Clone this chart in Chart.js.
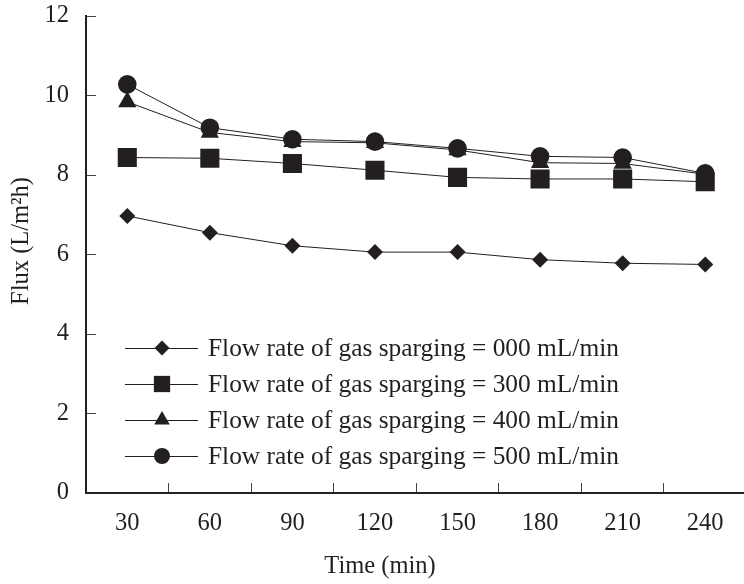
<!DOCTYPE html>
<html>
<head>
<meta charset="utf-8">
<script src="https://cdn.jsdelivr.net/npm/chart.js@4/dist/chart.umd.min.js"></script>
<style>
  html, body { margin: 0; padding: 0; background: #fff; overflow: hidden; width: 744px; height: 584px; }
  #wrap { position: relative; width: 760px; height: 584px; }
</style>
</head>
<body>
<div id="wrap"><canvas id="c" width="760" height="584"></canvas></div>
<script>
const timeLabels = ['30', '60', '90', '120', '150', '180', '210', '240'];
const flux000 = [6.97, 6.55, 6.22, 6.06, 6.06, 5.87, 5.78, 5.75];
const flux300 = [8.44, 8.42, 8.29, 8.12, 7.94, 7.90, 7.90, 7.83];
const flux400 = [9.84, 9.07, 8.84, 8.81, 8.63, 8.31, 8.29, 8.02];
const flux500 = [10.28, 9.19, 8.90, 8.84, 8.67, 8.47, 8.44, 8.04];
const seriesNames = [
  'Flow rate of gas sparging = 000 mL/min',
  'Flow rate of gas sparging = 300 mL/min',
  'Flow rate of gas sparging = 400 mL/min',
  'Flow rate of gas sparging = 500 mL/min'
];
const yTickValues = [0, 2, 4, 6, 8, 10, 12];
const xTitle = 'Time (min)';
const yTitle = 'Flux (L/m\u00B2h)';

const INK = '#231f20';
const FONT = '"Liberation Serif", "Times New Roman", serif';

function ds(label, data, style, radius, legendRadius) {
  return {
    label, data,
    borderColor: INK, borderWidth: 1,
    backgroundColor: INK,
    pointStyle: style, pointRadius: radius, pointHoverRadius: radius,
    pointBackgroundColor: INK, pointBorderColor: INK, pointBorderWidth: 0,
    legendRadius,
    fill: false, tension: 0
  };
}

function drawMarker(ctx, style, r, x, y) {
  ctx.beginPath();
  if (style === 'rectRot') {
    ctx.moveTo(x, y - r); ctx.lineTo(x + r, y); ctx.lineTo(x, y + r); ctx.lineTo(x - r, y);
  } else if (style === 'rect') {
    const s = r * Math.SQRT1_2;
    ctx.rect(x - s, y - s, 2 * s, 2 * s);
  } else if (style === 'triangle') {
    ctx.moveTo(x, y - r);
    ctx.lineTo(x + r * Math.sin(2 * Math.PI / 3), y + r / 2);
    ctx.lineTo(x - r * Math.sin(2 * Math.PI / 3), y + r / 2);
  } else {
    ctx.arc(x, y, r, 0, Math.PI * 2);
  }
  ctx.closePath();
  ctx.fill();
}

const legendAndTitles = {
  id: 'legendAndTitles',
  afterDraw(chart) {
    const ctx = chart.ctx;
    ctx.save();
    const rows = [348, 384, 420, 456];
    chart.data.datasets.forEach((d, i) => {
      const y = rows[i];
      ctx.strokeStyle = INK; ctx.lineWidth = 1;
      ctx.beginPath(); ctx.moveTo(125, y + 0.5); ctx.lineTo(198, y + 0.5); ctx.stroke();
      ctx.fillStyle = INK;
      drawMarker(ctx, d.pointStyle, d.legendRadius, 162, y);
      ctx.font = '25.4px ' + FONT;
      ctx.textAlign = 'left'; ctx.textBaseline = 'middle';
      ctx.fillText(d.label, 208, y + 1);
    });
    ctx.fillStyle = INK;
    ctx.font = '24.5px ' + FONT;
    ctx.textAlign = 'center'; ctx.textBaseline = 'middle';
    ctx.fillText(xTitle, 380, 567);
    ctx.translate(22, 241);
    ctx.rotate(-Math.PI / 2);
    ctx.fillText(yTitle, 0, 0);
    ctx.restore();
  }
};

new Chart(document.getElementById('c'), {
  type: 'line',
  data: {
    labels: timeLabels,
    datasets: [
      ds(seriesNames[0], flux000, 'rectRot', 8, 7.5),
      ds(seriesNames[1], flux300, 'rect', 13.5, 11.5),
      ds(seriesNames[2], flux400, 'triangle', 10.6, 9),
      ds(seriesNames[3], flux500, 'circle', 9.3, 8)
    ]
  },
  options: {
    responsive: false,
    animation: false,
    devicePixelRatio: 1,
    layout: { padding: { left: 0, right: 10, top: 16, bottom: 0 } },
    plugins: { legend: { display: false }, tooltip: { enabled: false } },
    scales: {
      x: {
        type: 'category',
        offset: true,
        grid: { offset: true, drawOnChartArea: false, drawTicks: true, tickLength: -10, color: '#444', lineWidth: 1 },
        border: { display: true, color: INK, width: 2 },
        ticks: { color: INK, font: { family: FONT, size: 24.5 }, padding: 26, maxRotation: 0, autoSkip: false },
        afterFit(scale) { scale.height = 91; scale.paddingLeft = 0; scale.paddingRight = 0; }
      },
      y: {
        min: 0, max: 12,
        afterBuildTicks(scale) { scale.ticks = yTickValues.map(v => ({ value: v })); },
        grid: { drawOnChartArea: false, drawTicks: true, tickLength: -10, color: '#444', lineWidth: 1 },
        border: { display: true, color: INK, width: 2 },
        ticks: { color: INK, font: { family: FONT, size: 24.5 }, padding: 27 },
        afterFit(scale) { scale.width = 86; scale.paddingTop = 0; scale.paddingBottom = 0; }
      }
    }
  },
  plugins: [legendAndTitles]
});
</script>
</body>
</html>
